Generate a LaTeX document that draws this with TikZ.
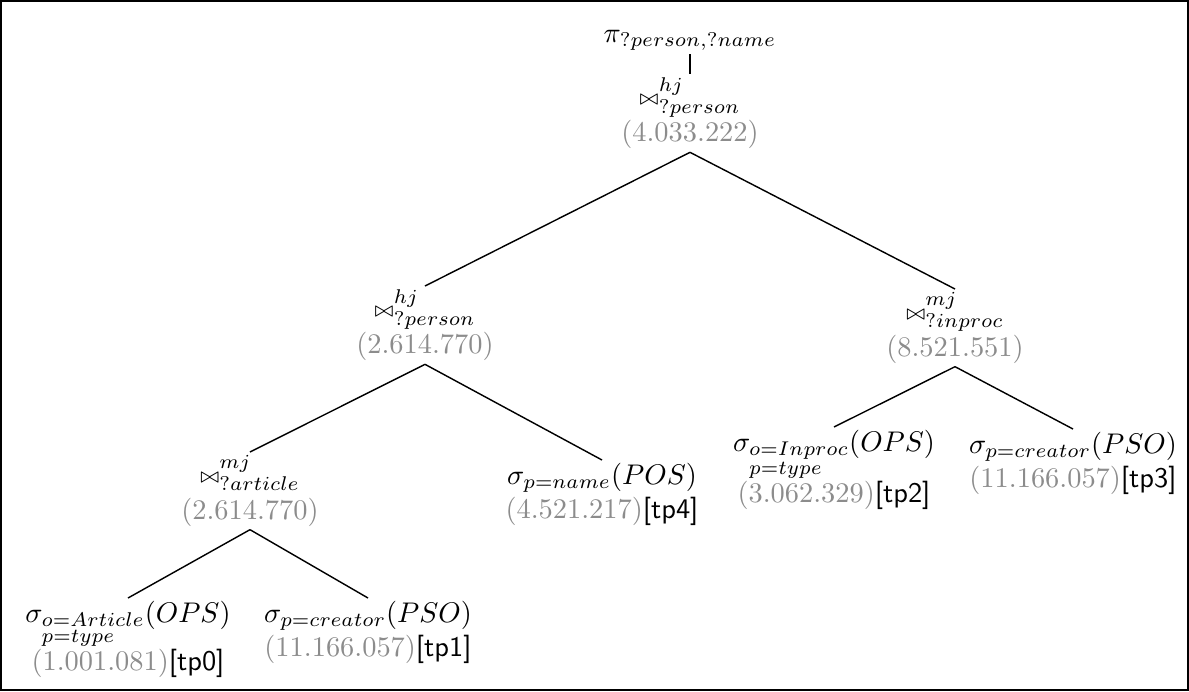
\documentclass[tikz,border=0pt]{standalone}
\usepackage{amsmath,amssymb}
\begin{document}
\begin{tikzpicture}[x=0.352pt,y=-0.352pt,
  op/.style={align=center,inner sep=1pt,anchor=north},
  edge/.style={line width=0.5pt},
  frame/.style={line width=0.6pt}]
\newcommand\cardn[1]{\textcolor{black!45}{$(#1)$}}
\newcommand\tplabel[1]{\textsf{[tp#1]}}
\newcommand\joinsym{{\scriptstyle\bowtie}}
\useasboundingbox (0,0) rectangle (1189,691);
\draw[frame] (1,1) rectangle (1188,690);

% projection and root join
\node[op] (proj) at (690,27) {$\pi_{?person,?name}$};
\node[op] (root) at (690,74) {$\joinsym^{hj}_{?person}$\\[1pt] \cardn{4.033.222}};

% second level
\node[op] (hjl) at (425,286) {$\joinsym^{hj}_{?person}$\\[1pt] \cardn{2.614.770}};
\node[op] (mjr) at (955,289) {$\joinsym^{mj}_{?inproc}$\\[1pt] \cardn{8.521.551}};

% third level
\node[op] (mja) at (250,452) {$\joinsym^{mj}_{?article}$\\[1pt] \cardn{2.614.770}};
\node[op] (tp4) at (602,460) {$\sigma_{p=name}(POS)$\\ \cardn{4.521.217}\tplabel{4}};
\node[op] (tp2) at (834,427) {$\sigma_{\begin{subarray}{l}o=Inproc\\ p=type\end{subarray}}(OPS)$\\ \cardn{3.062.329}\tplabel{2}};
\node[op] (tp3) at (1073,429) {$\sigma_{p=creator}(PSO)$\\ \cardn{11.166.057}\tplabel{3}};

% leaves
\node[op] (tp0) at (128,598) {$\sigma_{\begin{subarray}{l}o=Article\\ p=type\end{subarray}}(OPS)$\\ \cardn{1.001.081}\tplabel{0}};
\node[op] (tp1) at (368,598) {$\sigma_{p=creator}(PSO)$\\ \cardn{11.166.057}\tplabel{1}};

% edges
\draw[edge] (proj.south) -- (root.north);
\draw[edge] (root.south) -- (hjl.north);
\draw[edge] (root.south) -- (mjr.north);
\draw[edge] (hjl.south) -- (mja.north);
\draw[edge] (hjl.south) -- (tp4.north);
\draw[edge] (mjr.south) -- (tp2.north);
\draw[edge] (mjr.south) -- (tp3.north);
\draw[edge] (mja.south) -- (tp0.north);
\draw[edge] (mja.south) -- (tp1.north);
\end{tikzpicture}
\end{document}
